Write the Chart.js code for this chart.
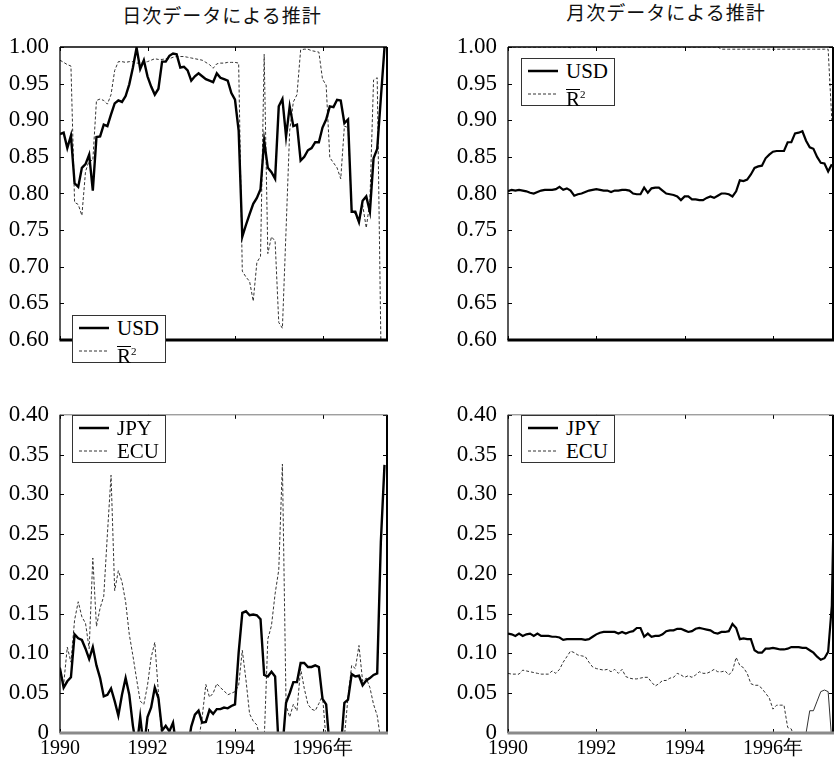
<!DOCTYPE html>
<html>
<head>
<meta charset="utf-8">
<script src="https://cdn.jsdelivr.net/npm/chart.js@4.4.1/dist/chart.umd.min.js"></script>
<style>
  body { margin: 0; background: #fff; }
  #wrap { position: relative; width: 834px; height: 766px; overflow: hidden; background: #fff; }
  canvas { position: absolute; }
  .title { position: absolute; text-align: center; font: 19px "Noto Sans CJK JP", sans-serif; letter-spacing: 1px; line-height: 24px; color: #111; }
  .lg { position: absolute; width: 92px; height: 46px; border: 1.5px solid #333; background: #fff;
        font: 21px "Liberation Serif", "DejaVu Serif", serif; color: #000; }
  .lg svg { position: absolute; left: 0; top: 0; }
  .lg .t { position: absolute; left: 44px; line-height: 24px; }
  .lg .r1 { top: 0; }
  .lg .r2 { top: 23px; }
  .ov { display: inline-block; border-top: 1px solid #000; line-height: 16px; padding-top: 1px; }
  .sq { font-size: 11px; vertical-align: 8px; }
</style>
</head>
<body>
<div id="wrap">
  <div class="title" style="left:92px;top:3px;width:260px">日次データによる推計</div>
  <div class="title" style="left:536px;top:0px;width:260px">月次データによる推計</div>

  <canvas id="dailyTop" width="400" height="390" style="left:0;top:0"></canvas>
  <canvas id="dailyBottom" width="400" height="376" style="left:0;top:390px"></canvas>
  <canvas id="monthlyTop" width="414" height="390" style="left:420px;top:0"></canvas>
  <canvas id="monthlyBottom" width="414" height="376" style="left:420px;top:390px"></canvas>

  <div class="lg" style="left:72px;top:315px">
    <svg width="92" height="46"><line x1="6" y1="12" x2="36" y2="12" stroke="#000" stroke-width="2.5"/><line x1="6" y1="35" x2="36" y2="35" stroke="#333" stroke-width="1" stroke-dasharray="3 2"/></svg>
    <span class="t r1">USD</span><span class="t r2"><span class="ov">R</span><span class="sq">2</span></span>
  </div>
  <div class="lg" style="left:521px;top:58px">
    <svg width="92" height="46"><line x1="6" y1="12" x2="36" y2="12" stroke="#000" stroke-width="2.5"/><line x1="6" y1="35" x2="36" y2="35" stroke="#333" stroke-width="1" stroke-dasharray="3 2"/></svg>
    <span class="t r1">USD</span><span class="t r2"><span class="ov">R</span><span class="sq">2</span></span>
  </div>
  <div class="lg" style="left:72px;top:415px">
    <svg width="92" height="46"><line x1="6" y1="12" x2="36" y2="12" stroke="#000" stroke-width="2.5"/><line x1="6" y1="35" x2="36" y2="35" stroke="#333" stroke-width="1" stroke-dasharray="3 2"/></svg>
    <span class="t r1">JPY</span><span class="t r2">ECU</span>
  </div>
  <div class="lg" style="left:521px;top:415px">
    <svg width="92" height="46"><line x1="6" y1="12" x2="36" y2="12" stroke="#000" stroke-width="2.5"/><line x1="6" y1="35" x2="36" y2="35" stroke="#333" stroke-width="1" stroke-dasharray="3 2"/></svg>
    <span class="t r1">JPY</span><span class="t r2">ECU</span>
  </div>
</div>

<script>
// monthly observations starting January 1990
const startYear = 1990;
const xTickValues = [1990, 1992, 1994, 1996];
const xTickLabels = ['1990', '1992', '1994', '1996年'];

// 日次データによる推計
const dailyUSD = [
  0.881, 0.883, 0.862, 0.879, 0.814, 0.809, 0.835, 0.840, 0.853, 0.804,
  0.877, 0.878, 0.894, 0.892, 0.908, 0.923, 0.927, 0.925, 0.933, 0.949,
  0.972, 0.999, 0.970, 0.982, 0.960, 0.946, 0.935, 0.943, 0.980, 0.980,
  0.988, 0.991, 0.990, 0.972, 0.973, 0.968, 0.954, 0.960, 0.964, 0.960,
  0.956, 0.954, 0.952, 0.964, 0.958, 0.956, 0.954, 0.937, 0.928, 0.886,
  0.741, 0.757, 0.772, 0.786, 0.794, 0.806, 0.872, 0.835, 0.829, 0.820,
  0.919, 0.929, 0.878, 0.919, 0.892, 0.894, 0.845, 0.850, 0.859, 0.862,
  0.870, 0.870, 0.890, 0.901, 0.919, 0.918, 0.928, 0.927, 0.896, 0.901,
  0.775, 0.775, 0.761, 0.790, 0.796, 0.775, 0.848, 0.861, 0.930, 0.999
];
const dailyR2 = [
  0.982, 0.979, 0.976, 0.974, 0.788, 0.785, 0.770, 0.830, 0.845, 0.845,
  0.927, 0.929, 0.927, 0.922, 0.935, 0.968, 0.980, 0.980, 0.979, 0.980,
  0.980, 0.978, 0.978, 0.979, 0.980, 0.982, 0.984, 0.983, 0.983, 0.984,
  0.984, 0.986, 0.987, 0.987, 0.987, 0.986, 0.985, 0.984, 0.983, 0.982,
  0.979, 0.976, 0.971, 0.977, 0.978, 0.978, 0.979, 0.979, 0.979, 0.978,
  0.694, 0.686, 0.680, 0.653, 0.706, 0.714, 0.990, 0.718, 0.741, 0.735,
  0.624, 0.616, 0.750, 0.886, 0.925, 0.935, 0.996, 0.997, 0.997, 0.995,
  0.994, 0.993, 0.956, 0.948, 0.849, 0.842, 0.835, 0.820, 0.892, 0.890,
  0.778, 0.772, 0.760, 0.785, 0.753, 0.790, 0.955, 0.958, 0.600, 0.600
];
const dailyJPY = [
  0.081, 0.057, 0.065, 0.070, 0.124, 0.119, 0.117, 0.106, 0.093, 0.108,
  0.085, 0.069, 0.046, 0.048, 0.056, 0.040, 0.022, 0.048, 0.069, 0.048,
  0.009, -0.020, 0.020, -0.020, 0.020, 0.032, 0.057, 0.044, 0.003, 0.009,
  0.002, 0.013, -0.020, -0.020, -0.020, -0.020, 0.008, 0.023, 0.028, 0.013,
  0.014, 0.029, 0.024, 0.030, 0.030, 0.032, 0.031, 0.034, 0.036, 0.101,
  0.151, 0.153, 0.148, 0.149, 0.148, 0.143, 0.073, 0.071, 0.077, 0.071,
  -0.020, -0.020, 0.038, 0.050, 0.064, 0.064, 0.088, 0.088, 0.083, 0.083,
  0.085, 0.083, 0.043, 0.036, -0.020, -0.020, -0.020, -0.020, 0.038, 0.042,
  0.074, 0.071, 0.072, 0.060, 0.066, 0.069, 0.073, 0.075, 0.240, 0.337
];
const dailyECU = [
  0.083, 0.061, 0.108, 0.089, 0.142, 0.165, 0.146, 0.138, 0.106, 0.220,
  0.134, 0.157, 0.172, 0.250, 0.324, 0.179, 0.204, 0.190, 0.165, 0.124,
  0.097, 0.068, 0.040, 0.036, 0.060, 0.095, 0.114, 0.050, -0.010, -0.010,
  -0.010, -0.010, -0.010, -0.010, -0.010, -0.010, -0.010, -0.010, -0.010, 0.020,
  0.061, 0.045, 0.050, 0.062, 0.057, 0.053, 0.048, 0.050, 0.052, 0.060,
  0.104, 0.067, 0.024, 0.015, 0.010, -0.010, -0.010, 0.118, 0.135, 0.175,
  0.205, 0.338, 0.035, 0.020, 0.036, 0.028, 0.081, 0.056, 0.036, 0.030,
  0.028, 0.037, 0.047, -0.010, -0.010, -0.010, -0.010, -0.010, -0.005, 0.045,
  0.085, 0.081, 0.110, 0.065, 0.069, 0.057, 0.036, 0.022, -0.010, -0.010
];

// 月次データによる推計
const monthlyUSD = [
  0.803, 0.805, 0.804, 0.805, 0.804, 0.803, 0.801, 0.800, 0.802, 0.804,
  0.805, 0.805, 0.805, 0.806, 0.809, 0.805, 0.807, 0.804, 0.797, 0.799,
  0.800, 0.802, 0.804, 0.805, 0.806, 0.805, 0.804, 0.804, 0.802, 0.804,
  0.804, 0.805, 0.805, 0.804, 0.800, 0.799, 0.799, 0.808, 0.801, 0.807,
  0.808, 0.808, 0.804, 0.800, 0.799, 0.798, 0.796, 0.791, 0.796, 0.796,
  0.792, 0.792, 0.791, 0.791, 0.794, 0.796, 0.794, 0.797, 0.800, 0.800,
  0.799, 0.796, 0.803, 0.818, 0.817, 0.819, 0.826, 0.835, 0.837, 0.838,
  0.848, 0.853, 0.857, 0.858, 0.858, 0.858, 0.870, 0.870, 0.882, 0.883,
  0.885, 0.872, 0.863, 0.861, 0.850, 0.842, 0.841, 0.830, 0.840
];
const monthlyR2 = [
  1.000, 1.000, 1.000, 1.000, 1.000, 1.000, 1.000, 1.000, 1.000, 1.000,
  1.000, 1.000, 1.000, 1.000, 1.000, 1.000, 1.000, 0.999, 1.000, 1.000,
  1.000, 1.000, 1.000, 1.000, 1.000, 1.000, 1.000, 1.000, 1.000, 1.000,
  1.000, 1.000, 1.000, 1.000, 1.000, 1.000, 1.000, 1.000, 1.000, 1.000,
  1.000, 1.000, 1.000, 1.000, 1.000, 1.000, 1.000, 1.000, 1.000, 1.000,
  1.000, 1.000, 1.000, 1.000, 1.000, 1.000, 1.000, 1.000, 0.997, 0.997,
  0.997, 0.997, 0.997, 0.997, 0.997, 0.997, 0.997, 0.997, 0.997, 0.997,
  0.997, 0.997, 0.997, 0.997, 0.997, 0.997, 0.997, 0.997, 0.997, 0.997,
  0.997, 0.997, 0.997, 0.997, 0.997, 0.997, 0.997, 0.997, 0.900
];
const monthlyJPY = [
  0.125, 0.124, 0.122, 0.125, 0.122, 0.124, 0.125, 0.122, 0.125, 0.122,
  0.122, 0.122, 0.121, 0.121, 0.120, 0.117, 0.118, 0.118, 0.118, 0.118,
  0.118, 0.117, 0.118, 0.121, 0.124, 0.126, 0.127, 0.127, 0.127, 0.127,
  0.125, 0.127, 0.125, 0.127, 0.128, 0.132, 0.132, 0.121, 0.125, 0.121,
  0.122, 0.122, 0.124, 0.128, 0.129, 0.129, 0.131, 0.131, 0.129, 0.127,
  0.128, 0.131, 0.132, 0.131, 0.130, 0.129, 0.126, 0.125, 0.127, 0.127,
  0.128, 0.137, 0.132, 0.118, 0.119, 0.118, 0.118, 0.104, 0.101, 0.101,
  0.106, 0.106, 0.107, 0.106, 0.105, 0.105, 0.106, 0.108, 0.108, 0.108,
  0.107, 0.107, 0.104, 0.101, 0.096, 0.092, 0.094, 0.102, 0.160, 0.400
];
const monthlyECU = [
  0.075, 0.074, 0.074, 0.074, 0.079, 0.078, 0.077, 0.076, 0.075, 0.074,
  0.074, 0.074, 0.078, 0.075, 0.080, 0.089, 0.096, 0.103, 0.101, 0.098,
  0.097, 0.096, 0.089, 0.083, 0.081, 0.080, 0.079, 0.080, 0.077, 0.080,
  0.075, 0.080, 0.071, 0.069, 0.068, 0.068, 0.069, 0.070, 0.070, 0.064,
  0.059, 0.062, 0.066, 0.066, 0.069, 0.070, 0.075, 0.073, 0.070, 0.072,
  0.070, 0.073, 0.077, 0.075, 0.075, 0.077, 0.080, 0.077, 0.077, 0.078,
  0.073, 0.078, 0.095, 0.085, 0.082, 0.075, 0.062, 0.060, 0.060, 0.056,
  0.050, 0.044, 0.030, 0.035, 0.035, 0.035, 0.007, 0.005, -0.010, -0.010,
  -0.010, 0.000, 0.028, 0.028, 0.040, 0.052, 0.054, 0.052, -0.010, -0.010
];

const labelFont = 'Liberation Serif';

function toPoints(values) {
    return values.map((v, i) => ({ x: startYear + i / 12, y: v }));
}

// frame with inward tick marks on all four sides
const framePlugin = {
    id: 'frame',
    afterDraw(chart, args, opts) {
        const { ctx, chartArea: a, scales: { x, y } } = chart;
        const seg = (x1, y1, x2, y2) => { ctx.beginPath(); ctx.moveTo(x1, y1); ctx.lineTo(x2, y2); ctx.stroke(); };
        ctx.save();
        ctx.strokeStyle = '#000';
        ctx.lineWidth = 1;
        y.ticks.forEach(t => {
            const py = Math.round(y.getPixelForValue(t.value)) + 0.5;
            seg(a.left, py, a.left + 4, py);
            seg(a.right - 4, py, a.right, py);
        });
        xTickValues.forEach(v => {
            const px = Math.round(x.getPixelForValue(v)) + 0.5;
            seg(px, a.top, px, a.top + 4);
            seg(px, a.bottom - 4, px, a.bottom);
        });
        ctx.lineWidth = 1.3;
        seg(a.left, a.top, a.left, a.bottom);
        ctx.lineWidth = 2;
        seg(a.right, a.top, a.right, a.bottom);
        ctx.strokeStyle = opts.topColor;
        ctx.lineWidth = opts.topWidth;
        seg(a.left, a.top, a.right, a.top);
        ctx.strokeStyle = opts.bottomColor;
        ctx.lineWidth = 3;
        seg(a.left - 0.5, a.bottom, a.right + 1, a.bottom);
        ctx.restore();
    }
};

function makeChart(id, cfg) {
    return new Chart(document.getElementById(id), {
        type: 'line',
        data: {
            datasets: cfg.series.map(s => ({
                data: toPoints(s.values),
                borderColor: s.color,
                borderWidth: s.width,
                borderDash: s.dash,
                segment: s.segment,
                pointRadius: 0,
                tension: 0,
                fill: false
            }))
        },
        options: {
            responsive: false,
            animation: false,
            devicePixelRatio: 1,
            layout: { padding: cfg.padding },
            plugins: { legend: { display: false }, tooltip: { enabled: false }, frame: cfg.frame },
            scales: {
                x: {
                    type: 'linear',
                    display: cfg.showX,
                    min: startYear,
                    max: cfg.xMax,
                    grid: { display: false, drawTicks: false },
                    border: { display: false },
                    afterBuildTicks: s => { s.ticks = xTickValues.map(v => ({ value: v })); },
                    afterFit: s => { s.height = 33; },
                    ticks: {
                        autoSkip: false, maxRotation: 0, padding: 4, color: '#000',
                        font: { family: labelFont, size: 20 },
                        callback: (v, i) => xTickLabels[i]
                    }
                },
                y: {
                    min: cfg.yMin,
                    max: cfg.yMax,
                    grid: { display: false, drawTicks: false },
                    border: { display: false },
                    afterFit: s => { s.width = cfg.yWidth; },
                    ticks: {
                        stepSize: 0.05, padding: 11, color: '#000',
                        font: { family: labelFont, size: 23 },
                        callback: v => Math.abs(v) < 1e-9 ? '0' : v.toFixed(2)
                    }
                }
            }
        },
        plugins: [framePlugin]
    });
}

const topFrame = { topColor: '#000', topWidth: 1.3, bottomColor: '#000' };
const bottomFrame = { topColor: '#777', topWidth: 1, bottomColor: '#8a8a8a' };

function drawAll() {
    makeChart('dailyTop', {
        series: [
            { values: dailyUSD, color: '#000', width: 2.4 },
            { values: dailyR2, color: '#333', width: 1, dash: [3, 2] }
        ],
        yMin: 0.6, yMax: 1.0, xMax: 1997.474, yWidth: 60, showX: false,
        padding: { top: 47, right: 13, bottom: 17, left: 0 }, frame: topFrame
    });

    makeChart('dailyBottom', {
        series: [
            { values: dailyJPY, color: '#000', width: 2.4 },
            { values: dailyECU, color: '#333', width: 1, dash: [3, 2] }
        ],
        yMin: 0, yMax: 0.4, xMax: 1997.474, yWidth: 60, showX: true,
        padding: { top: 17, right: 13, bottom: 0, left: 0 }, frame: bottomFrame
    });

    makeChart('monthlyTop', {
        series: [
            { values: monthlyUSD, color: '#000', width: 2.2 },
            { values: monthlyR2, color: '#333', width: 1, dash: [3, 2] }
        ],
        yMin: 0.6, yMax: 1.0, xMax: 1997.36, yWidth: 88, showX: false,
        padding: { top: 47, right: 1, bottom: 17, left: 0 }, frame: topFrame
    });

    makeChart('monthlyBottom', {
        series: [
            { values: monthlyJPY, color: '#000', width: 2.2 },
            {
                values: monthlyECU, color: '#333', width: 1, dash: [3, 2],
                segment: { borderDash: c => c.p0DataIndex >= 80 ? [] : undefined }
            }
        ],
        yMin: 0, yMax: 0.4, xMax: 1997.36, yWidth: 88, showX: true,
        padding: { top: 17, right: 1, bottom: 0, left: 0 }, frame: bottomFrame
    });
}

Promise.all([
    document.fonts.load('23px "Liberation Serif"'),
    document.fonts.load('20px "Noto Sans CJK JP"', '年')
]).then(drawAll, drawAll);
</script>
</body>
</html>
